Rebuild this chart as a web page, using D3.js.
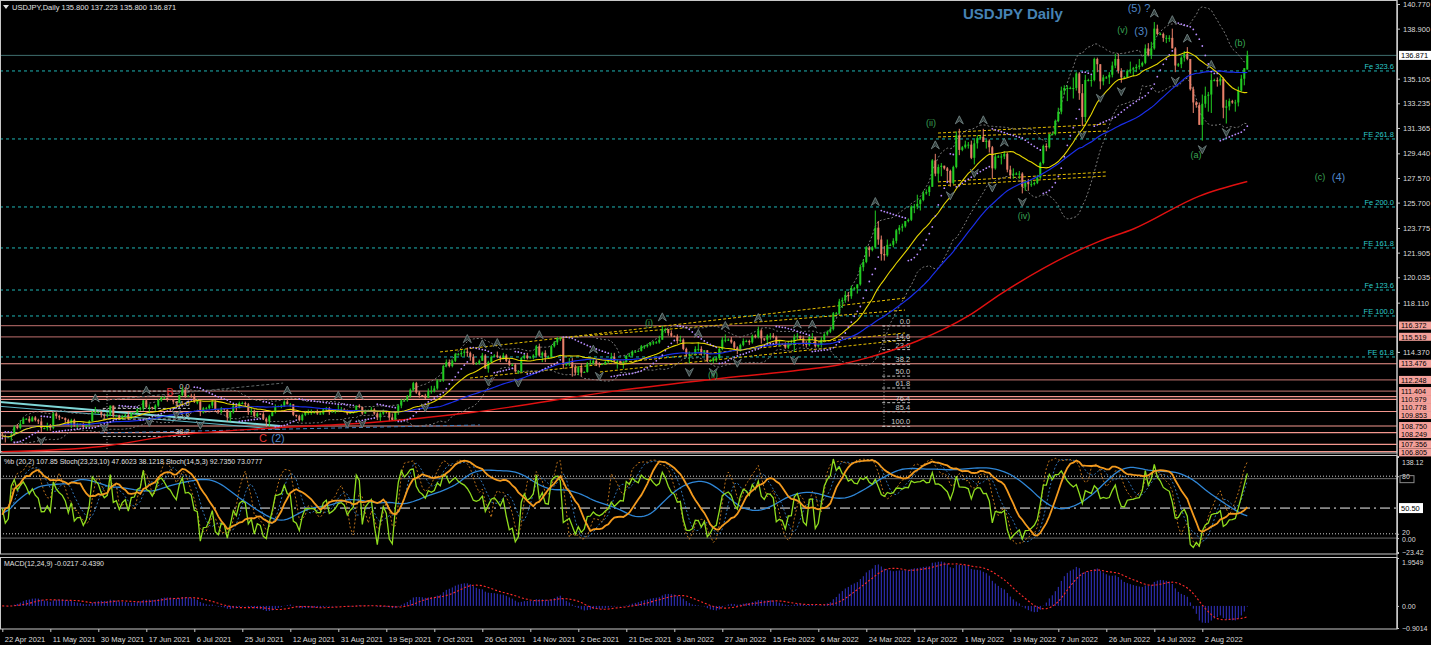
<!DOCTYPE html>
<html><head><meta charset="utf-8">
<script src="https://cdn.jsdelivr.net/npm/d3@7"></script>
<style>
body{margin:0;background:#000;overflow:hidden}
svg{display:block}
text{font-family:"Liberation Sans",Arial,sans-serif}
</style></head>
<body><svg id="c" width="1431" height="645"></svg>
<script>
// ---------------- DATA (USDJPY daily, 22 Apr 2021 - 19 Aug 2022, Sun-Fri bars) ----------------
const opens=[108.1,108.0,
107.9,107.9,108.1,108.7,108.6,108.9, 109.3,109.3,109.1,109.4,109.2,109.1, 108.6,108.6,108.8,108.6,109.7,109.5,
109.4,109.35,109.2,108.9,109.2,108.8, 108.9,108.9,108.7,108.8,109.1,109.8, 109.8,109.8,109.6,109.5,109.6,110.3,
109.5,109.55,109.3,109.5,109.6,109.3, 109.7,109.75,110.0,110.1,110.7,110.2, 110.2,110.1,110.3,110.7,110.9,110.9,
110.8,110.75,110.6,110.5,111.1,111.5, 111.0,111.05,111.0,110.6,110.6,109.8, 110.1,110.1,110.3,110.6,110.0,109.8,
110.1,110.0,109.4,109.8,110.3,110.1, 110.5,110.5,110.4,109.8,109.9,109.5, 109.7,109.65,109.3,109.1,109.5,109.8,
110.2,110.25,110.3,110.6,110.4,110.4, 109.6,109.5,109.2,109.6,109.8,109.8, 109.8,109.8,109.7,109.7,110.0,110.1,
109.8,109.85,109.9,110.0,110.0,109.9, 109.7,109.75,109.8,110.3,110.2,109.7, 109.9,109.95,110.0,109.7,109.4,109.7,
109.9,109.8,109.4,109.2,109.8,110.3, 110.7,110.7,111.0,111.5,112.0,111.3, 111.1,111.05,110.9,111.4,111.4,111.6,
112.2,112.2,113.3,113.6,113.3,113.7, 114.2,114.2,114.3,114.4,114.3,114.0, 113.5,113.5,113.7,114.1,113.1,113.6,
114.0,114.1,114.0,113.9,114.1,113.7, 113.4,113.4,112.9,112.9,113.9,114.1, 113.9,113.95,114.1,114.8,114.1,114.3,
114.0,114.0,114.8,115.1,115.4,115.4, 113.4,113.5,113.6,113.2,112.8,113.2, 112.8,112.85,113.5,113.5,113.7,113.5,
113.4,113.45,113.6,113.7,114.0,113.7, 113.7,113.6,113.6,114.1,114.1,114.4, 114.4,114.45,114.8,114.8,114.9,115.1,
115.1,115.1,115.3,116.1,116.1,115.8, 115.6,115.55,115.2,115.3,114.6,114.2, 114.2,114.25,114.6,114.6,114.3,114.5,
113.7,113.7,113.9,113.9,114.6,115.3, 115.3,115.3,115.1,114.7,114.5,114.9, 115.2,115.2,115.1,115.6,115.5,116.0,
115.4,115.3,115.6,115.6,115.5,114.9, 115.0,114.95,114.7,115.0,115.0,115.5, 115.6,115.4,115.0,114.9,115.5,115.5,
114.8,114.9,115.3,115.7,115.9,116.1, 117.3,117.3,118.2,118.3,118.7,118.6, 119.2,119.2,119.5,120.8,121.2,122.3,
122.1,122.3,123.8,122.9,121.8,121.7, 122.5,122.5,122.8,123.6,123.8,123.9, 124.3,124.4,125.4,125.4,125.6,125.9,
126.4,126.5,126.9,128.9,127.9,128.4, 128.5,128.3,128.1,127.2,128.4,130.8, 129.7,129.9,130.1,130.1,129.1,130.2,
130.6,130.7,130.3,130.4,129.9,128.3, 129.2,129.2,129.2,129.4,128.2,127.8, 127.9,127.9,127.9,126.9,127.3,127.1,
127.1,127.2,127.6,128.7,130.0,129.9, 130.9,130.9,131.9,132.6,134.2,134.4, 134.4,134.4,134.4,135.5,134.0,132.2,
135.0,135.0,135.0,136.6,136.2,134.9, 135.2,135.2,135.4,136.1,136.6,135.7, 135.2,135.2,135.7,135.8,135.9,136.0,
136.1,136.3,137.4,136.9,137.4,138.9, 138.5,138.5,138.2,138.2,138.2,137.4, 136.1,136.2,136.7,137.0,136.6,134.3,
133.3,133.1,131.6,133.2,133.8,133.9, 135.0,135.0,134.9,135.1,132.9,133.0, 133.4,133.3,133.3,134.2,135.1,135.8];
const highs=[108.3,108.1,
107.95,108.2,108.8,108.9,109.2,109.4, 109.35,109.5,109.5,109.5,109.3,109.4, 108.65,109.0,108.9,109.8,109.8,109.6,
109.4,109.4,109.3,109.3,109.3,109.0, 108.95,109.0,108.9,109.2,109.9,110.2, 109.85,109.9,109.7,109.8,110.3,110.3,
109.6,109.6,109.6,109.7,109.8,109.8, 109.8,110.1,110.2,110.7,110.8,110.4, 110.2,110.4,110.8,111.0,111.0,110.9,
110.8,110.8,110.6,111.1,111.7,111.7, 111.1,111.2,111.2,110.8,110.7,110.2, 110.2,110.4,110.7,110.7,110.0,110.2,
110.1,110.0,109.9,110.4,110.3,110.6, 110.6,110.6,110.5,110.2,110.0,109.8, 109.7,109.8,109.4,109.6,109.8,110.4,
110.3,110.4,110.7,110.8,110.5,110.4, 109.6,109.6,109.7,109.9,110.0,110.0, 109.9,110.0,109.8,110.1,110.2,110.2,
109.9,110.0,110.4,110.2,110.1,110.0, 109.8,109.9,110.3,110.4,110.2,110.0, 110.0,110.2,110.1,109.8,109.8,110.0,
109.9,109.8,109.7,109.8,110.4,110.8, 110.8,111.1,111.6,112.1,112.1,111.4, 111.1,111.2,111.6,111.8,111.8,112.3,
112.3,113.4,113.8,113.8,113.8,114.3, 114.3,114.5,114.6,114.7,114.4,114.2, 113.6,113.8,114.3,114.2,113.7,114.1,
114.2,114.4,114.1,114.3,114.2,113.9, 113.5,113.5,113.0,114.0,114.2,114.3, 114.0,114.2,114.9,115.0,114.4,114.5,
114.1,114.9,115.2,115.5,115.5,115.4, 113.6,113.9,113.9,113.4,113.3,113.5, 112.9,113.6,113.8,113.9,113.8,113.6,
113.5,113.7,113.8,114.3,114.3,113.8, 113.7,113.7,114.1,114.3,114.5,114.5, 114.5,114.9,114.9,115.0,115.1,115.2,
115.2,115.6,116.35,116.2,116.1,116.0, 115.6,115.7,115.6,115.4,114.7,114.4, 114.3,114.8,115.1,114.8,114.5,114.5,
113.8,114.0,114.0,114.7,115.5,115.7, 115.4,115.5,115.2,114.8,115.0,115.4, 115.3,115.3,115.7,115.7,116.3,116.1,
115.4,115.7,115.8,115.8,115.6,115.2, 115.0,115.1,115.2,115.3,115.7,115.8, 115.6,115.6,115.2,115.6,115.8,115.5,
115.0,115.5,115.8,116.0,116.3,117.4, 117.4,118.4,118.5,119.0,118.9,119.4, 119.3,119.5,121.0,121.4,122.4,122.4,
122.4,125.1,124.3,123.2,122.4,122.9, 122.6,123.0,123.7,124.0,124.1,124.3, 124.5,125.5,125.6,126.3,126.0,126.6,
126.7,127.0,129.0,129.4,128.6,128.7, 128.5,128.4,128.2,128.5,131.1,131.3, 130.0,130.4,130.3,130.4,130.5,130.8,
130.8,131.3,130.5,130.5,130.0,129.4, 129.3,129.4,129.6,129.5,128.5,128.3, 128.0,128.1,128.0,127.4,127.5,127.4,
127.3,127.8,128.8,130.1,130.2,130.9, 131.0,132.0,132.9,134.5,134.6,134.6, 134.5,135.2,135.6,135.6,134.7,135.4,
135.1,135.4,136.7,136.7,136.2,135.4, 135.3,135.6,136.4,137.0,137.0,135.9, 135.3,135.8,136.4,136.0,136.2,136.6,
136.4,137.7,137.8,137.9,139.4,139.2, 138.6,138.6,138.4,138.4,138.9,137.5, 136.3,136.8,137.2,137.5,136.6,134.5,
133.4,133.3,133.9,134.5,134.1,135.5, 135.1,135.2,135.3,135.2,133.5,133.6, 133.5,133.5,134.5,135.4,135.9,137.223];
const lows=[107.8,107.5,
107.85,107.6,108.0,108.5,108.5,108.9, 109.2,109.0,109.1,109.1,108.9,108.3, 108.5,108.4,108.4,108.5,109.3,109.2,
109.3,109.0,108.8,108.6,108.7,108.6, 108.8,108.6,108.6,108.7,109.1,109.7, 109.7,109.4,109.3,109.4,109.5,109.4,
109.5,109.2,109.2,109.4,109.2,109.3, 109.7,109.7,109.9,109.9,110.1,109.7, 110.0,109.9,110.2,110.6,110.8,110.6,
110.7,110.4,110.3,110.5,111.0,110.9, 111.0,110.9,110.5,110.4,109.5,109.7, 110.0,110.0,110.1,109.9,109.7,109.7,
109.9,109.1,109.1,109.7,109.9,110.1, 110.4,110.2,109.6,109.6,109.4,109.4, 109.6,109.2,108.7,108.7,109.5,109.7,
110.2,110.1,110.2,110.4,110.2,109.5, 109.4,109.1,109.1,109.5,109.6,109.6, 109.7,109.6,109.6,109.6,109.9,109.6,
109.8,109.7,109.8,109.9,109.8,109.6, 109.7,109.7,109.8,110.1,109.6,109.7, 109.9,109.9,109.6,109.2,109.1,109.6,
109.7,109.1,109.2,109.1,109.6,110.1, 110.6,110.6,110.9,111.4,111.2,110.9, 111.0,110.8,110.9,111.2,111.3,111.5,
112.1,112.1,113.2,113.2,113.2,113.6, 114.1,114.0,114.0,114.0,113.7,113.4, 113.4,113.4,113.7,113.1,112.8,113.5,
114.0,113.9,113.6,113.8,113.6,113.3, 113.3,112.8,112.7,112.8,113.8,113.8, 113.9,113.8,114.0,114.0,113.6,113.6,
113.9,113.9,114.7,114.9,115.2,113.1, 113.3,113.3,112.5,112.6,112.6,112.5, 112.8,112.8,113.4,113.4,113.3,113.2,
113.4,113.4,113.5,113.6,113.6,113.1, 113.5,113.1,113.6,114.0,114.0,114.3, 114.4,114.4,114.6,114.7,114.8,114.9,
115.0,115.0,115.3,115.8,115.6,115.5, 115.5,115.0,115.1,114.5,114.0,113.5, 114.2,114.1,114.4,114.1,114.1,113.6,
113.6,113.5,113.6,113.8,114.5,115.1, 115.2,115.0,114.6,114.2,114.4,114.8, 115.1,114.9,115.0,115.4,115.4,115.0,
115.2,115.0,115.3,115.4,114.8,114.8, 114.9,114.6,114.6,114.9,114.4,115.3, 115.3,114.8,114.7,114.8,115.3,114.7,
114.7,114.7,115.1,115.6,115.8,116.0, 117.2,117.2,117.7,118.1,118.2,118.4, 119.1,118.8,119.4,120.5,121.1,121.6,
122.0,122.2,122.5,121.3,121.3,121.6, 122.4,122.3,122.6,123.3,123.5,123.8, 124.2,124.3,124.9,125.2,125.1,125.8,
126.3,126.2,126.9,127.7,127.3,127.7, 128.2,127.3,126.9,127.1,128.3,129.3, 129.6,129.8,129.8,129.0,128.6,129.8,
130.5,130.3,129.8,129.5,127.5,128.2, 129.1,128.6,129.0,128.0,127.5,127.5, 127.8,127.5,126.4,126.6,126.6,126.9,
127.0,127.1,127.5,128.6,129.6,129.8, 130.8,130.8,131.8,132.4,133.9,133.4, 134.3,133.6,134.2,133.5,131.5,131.8,
134.9,134.5,134.9,135.6,134.3,134.6, 135.1,134.7,135.2,135.9,135.5,134.8, 135.1,135.2,135.5,135.3,135.6,135.8,
136.0,136.2,136.8,136.6,137.3,138.4, 138.4,137.9,137.8,137.9,137.4,135.6, 136.0,135.9,136.4,136.5,134.2,132.5,
132.9,131.6,130.4,132.9,132.6,132.5, 134.9,134.5,134.6,132.1,131.7,132.7, 133.2,132.6,133.0,134.1,134.6,135.8];
const closes=[108.0,107.9,
107.9,108.1,108.7,108.6,108.9,109.3, 109.3,109.1,109.4,109.2,109.1,108.6, 108.6,108.8,108.6,109.7,109.5,109.4,
109.35,109.2,108.9,109.2,108.8,108.9, 108.9,108.7,108.8,109.1,109.8,109.8, 109.8,109.6,109.5,109.6,110.3,109.5,
109.55,109.3,109.5,109.6,109.3,109.7, 109.75,110.0,110.1,110.7,110.2,110.2, 110.1,110.3,110.7,110.9,110.9,110.8,
110.75,110.6,110.5,111.1,111.5,111.0, 111.05,111.0,110.6,110.6,109.8,110.1, 110.1,110.3,110.6,110.0,109.8,110.1,
110.0,109.4,109.8,110.3,110.1,110.5, 110.5,110.4,109.8,109.9,109.5,109.7, 109.65,109.3,109.1,109.5,109.8,110.2,
110.25,110.3,110.6,110.4,110.4,109.6, 109.5,109.2,109.6,109.8,109.8,109.8, 109.8,109.7,109.7,110.0,110.1,109.8,
109.85,109.9,110.0,110.0,109.9,109.7, 109.75,109.8,110.3,110.2,109.7,109.9, 109.95,110.0,109.7,109.4,109.7,109.9,
109.8,109.4,109.2,109.8,110.3,110.7, 110.7,111.0,111.5,112.0,111.3,111.1, 111.05,110.9,111.4,111.4,111.6,112.2,
112.2,113.3,113.6,113.3,113.7,114.2, 114.2,114.3,114.4,114.3,114.0,113.5, 113.5,113.7,114.1,113.1,113.6,114.0,
114.1,114.0,113.9,114.1,113.7,113.4, 113.4,112.9,112.9,113.9,114.1,113.9, 113.95,114.1,114.8,114.1,114.3,114.0,
114.0,114.8,115.1,115.4,115.4,113.4, 113.5,113.6,113.2,112.8,113.2,112.8, 112.85,113.5,113.5,113.7,113.5,113.4,
113.45,113.6,113.7,114.0,113.7,113.7, 113.6,113.6,114.1,114.1,114.4,114.4, 114.45,114.8,114.8,114.9,115.1,115.1,
115.1,115.3,116.1,116.1,115.8,115.6, 115.55,115.2,115.3,114.6,114.2,114.2, 114.25,114.6,114.6,114.3,114.5,113.7,
113.7,113.9,113.9,114.6,115.3,115.3, 115.3,115.1,114.7,114.5,114.9,115.2, 115.2,115.1,115.6,115.5,116.0,115.4,
115.3,115.6,115.6,115.5,114.9,115.0, 114.95,114.7,115.0,115.0,115.5,115.6, 115.4,115.0,114.9,115.5,115.5,114.8,
114.9,115.3,115.7,115.9,116.1,117.3, 117.3,118.2,118.3,118.7,118.6,119.2, 119.2,119.5,120.8,121.2,122.3,122.1,
122.3,123.8,122.9,121.8,121.7,122.5, 122.5,122.8,123.6,123.8,123.9,124.3, 124.4,125.4,125.4,125.6,125.9,126.4,
126.5,126.9,128.9,127.9,128.4,128.5, 128.3,128.1,127.2,128.4,130.8,129.7, 129.9,130.1,130.1,129.1,130.2,130.6,
130.7,130.3,130.4,129.9,128.3,129.2, 129.2,129.2,129.4,128.2,127.8,127.9, 127.9,127.9,126.9,127.3,127.1,127.1,
127.2,127.6,128.7,130.0,129.9,130.9, 130.9,131.9,132.6,134.2,134.4,134.4, 134.4,134.4,135.5,134.0,132.2,135.0,
135.0,135.0,136.6,136.2,134.9,135.2, 135.2,135.4,136.1,136.6,135.7,135.2, 135.2,135.7,135.8,135.9,136.0,136.1,
136.3,137.4,136.9,137.4,138.9,138.5, 138.5,138.2,138.2,138.2,137.4,136.1, 136.2,136.7,137.0,136.6,134.3,133.3,
133.1,131.6,133.2,133.8,133.9,135.0, 135.0,134.9,135.1,132.9,133.0,133.4, 133.3,133.3,134.2,135.1,135.9,136.871];

const dateLabels=['22 Apr 2021','11 May 2021','30 May 2021','17 Jun 2021','6 Jul 2021','25 Jul 2021','12 Aug 2021',
'31 Aug 2021','19 Sep 2021','7 Oct 2021','26 Oct 2021','14 Nov 2021','2 Dec 2021','21 Dec 2021','9 Jan 2022',
'27 Jan 2022','15 Feb 2022','6 Mar 2022','24 Mar 2022','12 Apr 2022','1 May 2022','19 May 2022','7 Jun 2022',
'26 Jun 2022','14 Jul 2022','2 Aug 2022'];
const priceTicks=[140.770,138.900,135.105,133.235,131.365,129.440,127.570,125.700,123.775,121.905,120.035,118.110,114.370];
const lastPrice=136.871;
const srLevels=[116.372,115.519,113.476,112.248,111.404,110.979,110.778,109.853,108.750,108.249,107.356,106.805];
const feLevels=[135.69,130.53,125.37,122.26,119.07,117.10,113.99];
const feNames=['Fe 323.6','FE 261.8','Fe 200.0','FE 161.8','Fe 123.6','FE 100.0','FE 61.8'];
const fibRatios=[0,14.6,23.6,38.2,50,61.8,76.4,85.4,100];
const fibA=[116.35,108.72];   // retracement drawn near Mar 2022
const fibB=[111.40,102.40];   // retracement drawn near Jul 2021
const redMaBars=[0,33,56,90,122,157,204,237,266,279,288,305,322,333,366,377,399,415];
const redMaVals=[106.8,107.2,108.0,108.6,109.0,109.8,111.4,112.3,113.0,113.4,113.9,115.2,117.1,118.8,122.8,123.7,126.2,127.3];
const waveText=['(ii)','(iv)','(v)','(3)','(5) ?','(b)','(a)','(c)','(4)','(i)','(ii)','B','C','(2)'];
const waveBar=[309.6,340.6,373.4,379.6,378.9,412.6,397.9,439.2,445.4,215.6,236.9,55.9,86.9,91.9];
const wavePrice=[131.74,124.68,138.80,138.72,140.47,137.81,129.31,127.64,127.64,116.57,112.62,111.33,107.84,107.84];
const trendYellow=[[311.9,130.98,368.2,131.66],[311.9,130.68,368.2,131.13],[311.9,127.27,368.2,128.03],[311.9,126.97,368.2,127.72],
[145.9,114.37,300.9,118.46],[185.9,115.43,300.9,117.55],[155.9,112.39,300.9,115.81],[199.2,112.85,300.9,115.28]];
const trendOther=[[-1,110.57,92.6,108.75],[-1,110.25,92.6,108.50],[34.9,110.72,93.6,112.01],[32.6,108.22,159.2,108.83]];

// ---------------- INDICATORS computed from price ----------------
const N=closes.length;
function sma(a,n){const o=[];let s=0;for(let i=0;i<a.length;i++){s+=a[i];if(i>=n)s-=a[i-n];o.push(s/Math.min(i+1,n));}return o;}
function ema(a,n){const k=2/(n+1),o=[a[0]];for(let i=1;i<a.length;i++)o.push(a[i]*k+o[i-1]*(1-k));return o;}
const ma20=sma(closes,20), ma50=sma(closes,50);
const bbU=[],bbL=[],pctB=[];
for(let i=0;i<N;i++){const s=Math.max(0,i-19);const w=closes.slice(s,i+1);const m=ma20[i];
 const sd=Math.sqrt(d3.sum(w,v=>(v-m)*(v-m))/w.length);bbU.push(m+2*sd);bbL.push(m-2*sd);
 pctB.push(sd>0?(closes[i]-(m-2*sd))/(4*sd)*100:50);}
function stoch(K,D,S){const main=[];for(let i=0;i<N;i++){let num=0,den=0;for(let j=Math.max(0,i-S+1);j<=i;j++){const s=Math.max(0,j-K+1);
 const lo=d3.min(lows.slice(s,j+1)),hi=d3.max(highs.slice(s,j+1));num+=closes[j]-lo;den+=hi-lo;}main.push(den>0?num/den*100:50);}
 return [main,sma(main,D)];}
const [st1m,st1s]=stoch(23,23,10), [st2m,st2s]=stoch(14,5,3);
const e12=ema(closes,12),e24=ema(closes,24);const macd=e12.map((v,i)=>v-e24[i]);const macdSig=sma(macd,9);
function psar(step,mx){const o=[];let up=true,af=step,ep=highs[0],sar=lows[0];o.push(sar);
 for(let i=1;i<N;i++){sar=sar+af*(ep-sar);
  if(up){sar=Math.min(sar,lows[i-1],lows[Math.max(0,i-2)]);
   if(lows[i]<sar){up=false;sar=ep;ep=lows[i];af=step;}else if(highs[i]>ep){ep=highs[i];af=Math.min(af+step,mx);}}
  else{sar=Math.max(sar,highs[i-1],highs[Math.max(0,i-2)]);
   if(highs[i]>sar){up=true;sar=ep;ep=highs[i];af=step;}else if(lows[i]<ep){ep=lows[i];af=Math.min(af+step,mx);}}
  o.push(sar);}return o;}
const sar=psar(0.02,0.2);
const fw=3,fracUp=[],fracDn=[];
for(let i=fw;i<N-fw;i++){let u=true,d=true;for(let j=i-fw;j<=i+fw;j++){if(j===i)continue;if(highs[j]>=highs[i])u=false;if(lows[j]<=lows[i])d=false;}
 if(u)fracUp.push(i);if(d)fracDn.push(i);}

// ---------------- SCALES ----------------
const svg=d3.select('#c');
const R=1397;
const x=d3.scaleLinear().domain([0,N-1]).range([2.3,1247.3]);
const y=d3.scaleLinear().domain([140.77,114.37]).range([4,351.95]);
const yA=d3.scaleLinear().domain([-23.42,138.12]).range([552,456]);
const yB=d3.scaleLinear().domain([0,100]).range([553,457]);
const yM=d3.scaleLinear().domain([-0.9014,1.9549]).range([628,558]);
const pBottom=y.invert(450);
svg.append('rect').attr('width',1431).attr('height',645).attr('fill','#000');
const defs=svg.append('defs');
[['cm',0,0,R,453],['cs',0,455,R,99],['cmd',0,557,R,71]].forEach(c=>defs.append('clipPath').attr('id',c[0]).append('rect').attr('x',c[1]).attr('y',c[2]).attr('width',c[3]).attr('height',c[4]));
const gM=svg.append('g').attr('clip-path','url(#cm)');
const gS=svg.append('g').attr('clip-path','url(#cs)');
const gD=svg.append('g').attr('clip-path','url(#cmd)');
const lineOf=(sc,arr)=>d3.line().x((d,i)=>x(i)).y(d=>sc(d))(arr);

// ---------------- MAIN PANEL ----------------
const srTone=['#9a5a58','#9a5a58','#f4978e','#a0605c','#a0605c','#f4978e','#f4978e','#f4978e','#f4978e','#f4978e','#f4978e','#f4978e'];
srLevels.forEach((p,i)=>gM.append('line').attr('x1',0).attr('x2',R).attr('y1',y(p)).attr('y2',y(p)).attr('stroke',srTone[i]).attr('stroke-width',1.2));
feLevels.forEach((p,i)=>{gM.append('line').attr('x1',0).attr('x2',R).attr('y1',y(p)).attr('y2',y(p)).attr('stroke','#1fb5b5').attr('stroke-dasharray','3,3');
 gM.append('text').attr('x',1394).attr('y',y(p)-2).attr('text-anchor','end').attr('font-size',7.5).attr('fill','#2ccaca').text(feNames[i]);});
gM.append('line').attr('x1',0).attr('x2',R).attr('y1',y(lastPrice)).attr('y2',y(lastPrice)).attr('stroke','#3f6f6f');

// trend lines
trendYellow.forEach(t=>gM.append('line').attr('x1',x(t[0])).attr('y1',y(t[1])).attr('x2',x(t[2])).attr('y2',y(t[3])).attr('stroke','#e8c000').attr('stroke-dasharray','3,2'));
const otherStyle=[['#7fd8d8',2,null],['#5fb8c8',1,null],['#606868',1,'3,2'],['#3f7fbf',1,'4,3']];
trendOther.forEach((t,i)=>gM.append('line').attr('x1',x(t[0])).attr('y1',y(t[1])).attr('x2',x(t[2])).attr('y2',y(t[3])).attr('stroke',otherStyle[i][0]).attr('stroke-width',otherStyle[i][1]).attr('stroke-dasharray',otherStyle[i][2]));

// fibonacci retracements
function drawFib(rng,b0,b1,bv){const top=rng[0],bot=rng[1];
 gM.append('line').attr('x1',x(bv)).attr('x2',x(bv)).attr('y1',y(top)).attr('y2',y(bot)).attr('stroke','#9a9a9a').attr('stroke-dasharray','1,2');
 fibRatios.forEach(r=>{const p=top-(top-bot)*r/100;if(p<pBottom)return;
  gM.append('line').attr('x1',x(b0)).attr('x2',x(b1)).attr('y1',y(p)).attr('y2',y(p)).attr('stroke','#bdbdbd').attr('stroke-dasharray','3,2');
  gM.append('text').attr('x',x(b1)).attr('y',y(p)-2).attr('text-anchor','end').attr('font-size',7.5).attr('fill','#c8c8c8').text(d3.format('.1f')(r));});}
drawFib(fibA,293.3,302.6,293.9);
drawFib(fibB,33.5,62.5,34.9);

// bollinger
[bbU,bbL].forEach(b=>gM.append('path').attr('d',d3.line().defined((d,i)=>i>=3).x((d,i)=>x(i)).y(d=>y(d))(b)).attr('fill','none').attr('stroke','#7c7c7c').attr('stroke-dasharray','2,2'));

// candles
const cg=gM.append('g');
for(let i=0;i<N;i++){const up=closes[i]>=opens[i];const col=up?'#22cc22':'#e8806a';const cx=x(i);
 cg.append('line').attr('x1',cx).attr('x2',cx).attr('y1',y(highs[i])).attr('y2',y(lows[i])).attr('stroke',col);
 const t=y(Math.max(opens[i],closes[i])),b=y(Math.min(opens[i],closes[i]));
 cg.append('rect').attr('x',cx-1).attr('y',t).attr('width',2).attr('height',Math.max(1,b-t)).attr('fill',col);}

// moving averages
gM.append('path').attr('d',d3.line().curve(d3.curveMonotoneX).x((d,i)=>x(redMaBars[i])).y(d=>y(d))(redMaVals)).attr('fill','none').attr('stroke','#e01010').attr('stroke-width',1.4);
gM.append('path').attr('d',lineOf(y,ma50)).attr('fill','none').attr('stroke','#1a2ee8').attr('stroke-width',1.2);
gM.append('path').attr('d',lineOf(y,ma20)).attr('fill','none').attr('stroke','#e6d600').attr('stroke-width',1.1);

// parabolic SAR
gM.append('g').selectAll('circle').data(sar).join('circle').attr('cx',(d,i)=>x(i)).attr('cy',d=>y(d)).attr('r',0.9).attr('fill','#b78cff');

// fractals
fracUp.forEach(i=>{const cx=x(i),cy=y(highs[i])-9;gM.append('path').attr('d',`M${cx-4},${cy+4}L${cx},${cy-4}L${cx+4},${cy+4}L${cx},${cy+1}Z`).attr('fill','#33403f').attr('stroke','#6f8080').attr('stroke-width',0.9);});
fracDn.forEach(i=>{const cx=x(i),cy=y(lows[i])+9;gM.append('path').attr('d',`M${cx-4},${cy-4}L${cx},${cy+4}L${cx+4},${cy-4}L${cx},${cy-1}Z`).attr('fill','#33403f').attr('stroke','#6f8080').attr('stroke-width',0.9);});

// wave labels
const waveCol=['#3aa655','#3aa655','#3aa655','#4f86c6','#4f86c6','#3aa655','#3aa655','#3aa655','#4f86c6','#3aa655','#3aa655','#e03030','#e03030','#4f86c6'];
const waveSize=[9,9,9,11,11,9,9,9,11,9,9,11,11,11];
waveText.forEach((t,i)=>gM.append('text').attr('x',x(waveBar[i])).attr('y',y(wavePrice[i])).attr('dy','0.35em').attr('text-anchor','middle').attr('font-size',waveSize[i]).attr('fill',waveCol[i]).text(t));

// title and header
svg.append('text').attr('x',963).attr('y',19).attr('font-size',15).attr('font-weight','bold').attr('fill','#4682b4').text('USDJPY Daily');
svg.append('path').attr('d','M3,5L9,5L6,9Z').attr('fill','#e0e0e0');
svg.append('text').attr('x',12).attr('y',10).attr('font-size',7.5).attr('fill','#e0e0e0').text('USDJPY,Daily  135.800 137.223 135.800 136.871');

// ---------------- STOCH PANEL ----------------
gS.append('line').attr('x1',0).attr('x2',R).attr('y1',yB(80)).attr('y2',yB(80)).attr('stroke','#d0d0d0').attr('stroke-dasharray','1,2');
gS.append('line').attr('x1',0).attr('x2',R).attr('y1',yB(20)).attr('y2',yB(20)).attr('stroke','#d0d0d0').attr('stroke-dasharray','1,2');
gS.append('line').attr('x1',0).attr('x2',R).attr('y1',yA(100)).attr('y2',yA(100)).attr('stroke','#6c6c6c');
gS.append('line').attr('x1',0).attr('x2',R).attr('y1',yA(0)).attr('y2',yA(0)).attr('stroke','#6c6c6c');
gS.append('line').attr('x1',0).attr('x2',R).attr('y1',yA(50.5)).attr('y2',yA(50.5)).attr('stroke','#f0f0f0').attr('stroke-dasharray','10,4,2,4');
gS.append('path').attr('d',lineOf(yB,st2s)).attr('fill','none').attr('stroke','#3d8fe0').attr('stroke-width',0.8).attr('stroke-dasharray','2,2');
gS.append('path').attr('d',lineOf(yB,st2m)).attr('fill','none').attr('stroke','#e58a1f').attr('stroke-width',0.8).attr('stroke-dasharray','2,2');
gS.append('path').attr('d',lineOf(yB,st1s)).attr('fill','none').attr('stroke','#2f86d6').attr('stroke-width',1.3);
gS.append('path').attr('d',lineOf(yA,pctB)).attr('fill','none').attr('stroke','#8fdc1e').attr('stroke-width',1.3);
gS.append('path').attr('d',lineOf(yB,st1m)).attr('fill','none').attr('stroke','#f39a1e').attr('stroke-width',1.8);
svg.append('text').attr('x',4).attr('y',464).attr('font-size',7).attr('fill','#e0e0e0').text('%b (20,2) 107.85  Stoch(23,23,10) 47.6023 38.1218  Stoch(14,5,3) 92.7350 73.0777');

// ---------------- MACD PANEL ----------------
gD.append('g').selectAll('line').data(macd).join('line').attr('x1',(d,i)=>x(i)).attr('x2',(d,i)=>x(i)).attr('y1',yM(0)).attr('y2',d=>yM(d)).attr('stroke','#3434c8').attr('stroke-width',1);
gD.append('path').attr('d',lineOf(yM,macdSig)).attr('fill','none').attr('stroke','#ff2a2a').attr('stroke-width',1.1).attr('stroke-dasharray','2,2');
svg.append('text').attr('x',4).attr('y',566).attr('font-size',7).attr('fill','#e0e0e0').text('MACD(12,24,9) -0.0217 -0.4390');

// ---------------- FRAMES & AXES ----------------
const frame='#c8c8c8';
[[0,0,453],[0,455,554],[0,557,629]].forEach(f=>svg.append('rect').attr('x',0.5).attr('y',f[1]+0.5).attr('width',R-0.5).attr('height',f[2]-f[1]-0.5).attr('fill','none').attr('stroke',frame));
function styleAxis(g){g.select('.domain').attr('stroke',frame);g.selectAll('line').attr('stroke',frame);g.selectAll('text').attr('fill','#dcdcdc').attr('font-size',7.5).attr('font-family','"Liberation Sans",Arial,sans-serif');}
svg.append('g').attr('transform',`translate(${R},0)`).call(d3.axisRight(y).tickValues(priceTicks).tickSize(3).tickFormat(d3.format('.3f'))).call(styleAxis);
// sr labels
let prevY=-99;
srLevels.forEach(p=>{let ly=Math.max(y(p),prevY+8);prevY=ly;
 svg.append('rect').attr('x',R+2).attr('y',ly-4).attr('width',32).attr('height',8).attr('fill','#f4a09a');
 svg.append('text').attr('x',R+4).attr('y',ly+2.7).attr('font-size',7.2).attr('fill','#000').text(d3.format('.3f')(p));});
svg.append('rect').attr('x',R+2).attr('y',y(lastPrice)-4.5).attr('width',32).attr('height',9).attr('fill','#fff');
svg.append('text').attr('x',R+4).attr('y',y(lastPrice)+3).attr('font-size',7.5).attr('fill','#000').text(d3.format('.3f')(lastPrice));
// stoch axis
const shiftA={'138.12':6,'0.00':1.5,'-23.42':-3};
svg.append('g').attr('transform',`translate(${R},0)`).call(d3.axisRight(yA).tickValues([138.12,0,-23.42]).tickSize(2).tickFormat(d3.format('.2f'))).call(styleAxis)
 .call(g=>g.selectAll('text').attr('transform',function(){return `translate(0,${shiftA[this.textContent]||0})`;}).attr('font-size',7));
svg.append('g').attr('transform',`translate(${R},0)`).call(d3.axisRight(yB).tickValues([80,20]).tickSize(2).tickFormat(d3.format('d'))).call(styleAxis)
 .call(g=>g.selectAll('text').attr('font-size',7).attr('transform',function(){return this.textContent==='20'?'translate(0,-1.5)':'translate(0,0)';}));
svg.append('rect').attr('x',R+3).attr('y',yA(100)-3).attr('width',14).attr('height',7).attr('fill','none').attr('stroke','#8a8a8a');
svg.append('rect').attr('x',R+2).attr('y',yA(50.5)-5).attr('width',24).attr('height',10).attr('fill','#fff');
svg.append('text').attr('x',R+4).attr('y',yA(50.5)+3).attr('font-size',7.5).attr('fill','#000').text('50.50');
// macd axis
const shiftM={'1.9549':4,'-0.9014':-3};
svg.append('g').attr('transform',`translate(${R},0)`).call(d3.axisRight(yM).tickValues([1.9549,0,-0.9014]).tickSize(2).tickFormat(d=>d===0?'0.00':d3.format('.4f')(d))).call(styleAxis)
 .call(g=>g.selectAll('text').attr('font-size',7).attr('transform',function(){return `translate(0,${shiftM[this.textContent]||0})`;}));
// date axis
const barDates=[];{const d=new Date(2021,3,22);while(barDates.length<N){if(d.getDay()!==6)barDates.push(new Date(d));d.setDate(d.getDate()+1);}}
const fmt=d3.timeFormat('%-d %b %Y');
const labelBars=dateLabels.map(s=>barDates.findIndex(dt=>fmt(dt)===s));
svg.append('g').attr('transform','translate(0,629)').call(d3.axisBottom(x).tickValues(labelBars).tickSize(3).tickFormat((d,i)=>dateLabels[i])).call(styleAxis)
 .call(g=>{g.select('.domain').remove();g.selectAll('text').attr('text-anchor','start').attr('dx',2).attr('dy','0.9em');});
svg.append('line').attr('x1',R).attr('x2',R).attr('y1',0).attr('y2',629).attr('stroke',frame);
if(opens.length!==N||highs.length!==N||lows.length!==N)svg.append('text').attr('x',300).attr('y',300).attr('fill','red').text('LEN '+opens.length+' '+highs.length+' '+lows.length+' '+N);
</script></body></html>
